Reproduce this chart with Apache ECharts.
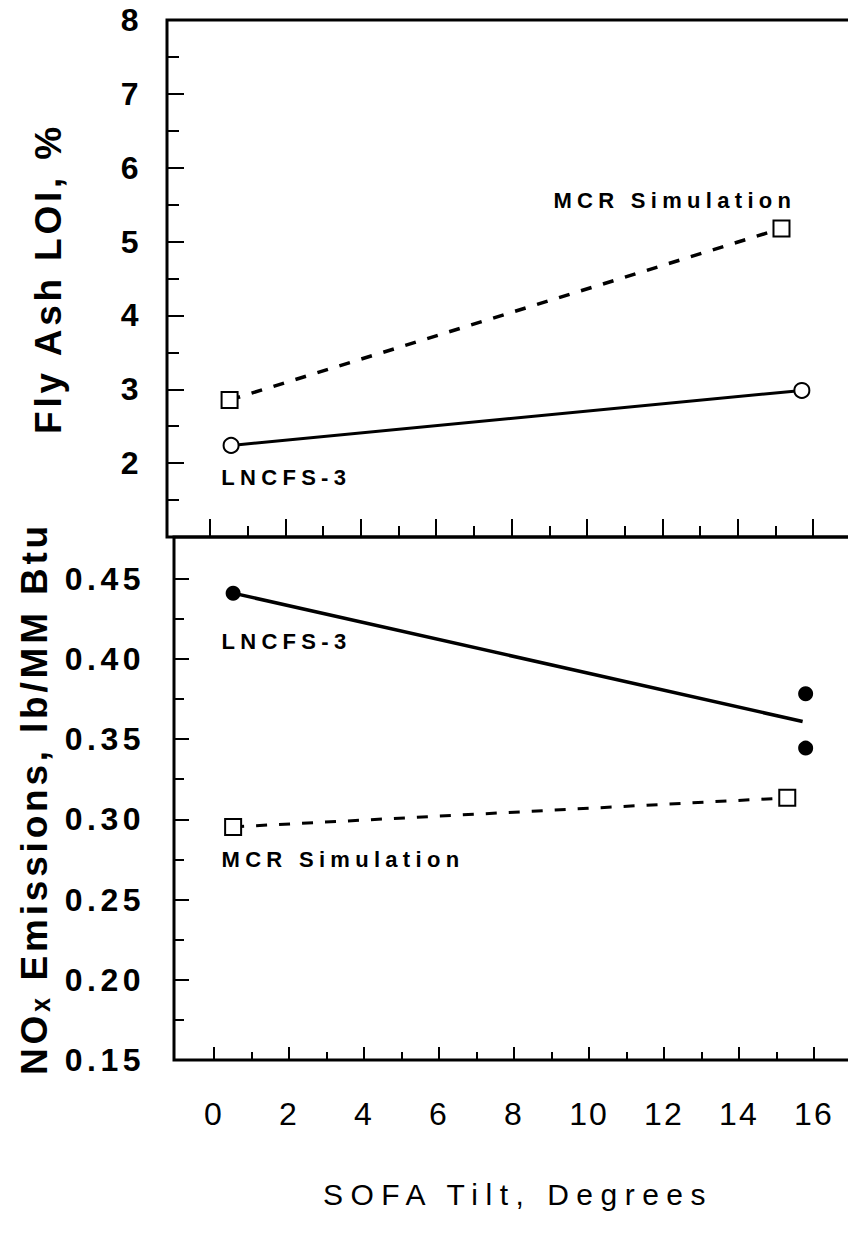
<!DOCTYPE html>
<html><head><meta charset="utf-8">
<script src="https://cdn.jsdelivr.net/npm/echarts@6/dist/echarts.min.js"></script>
<style>html,body{margin:0;padding:0;background:#fff;overflow:hidden}#chart{width:848px;height:1235px}</style>
</head><body><div id="chart"></div>
<script>
// ---- data ----
const xMajorTicks = [0, 2, 4, 6, 8, 10, 12, 14, 16];
const xMinorTicks = [1, 3, 5, 7, 9, 11, 13, 15, 17];
const loiTickLabels = [2, 3, 4, 5, 6, 7, 8];
const noxMajorTicks = [0.15, 0.20, 0.25, 0.30, 0.35, 0.40, 0.45];
const noxMinorTicks = [0.175, 0.225, 0.275, 0.325, 0.375, 0.425];

const loiMCR = [[0.52, 2.855], [15.16, 5.177]];
const loiLNCFS = [[0.56, 2.24], [15.7, 2.984]];
const noxLNCFS = [[0.51, 0.441], [15.7, 0.361]];
const noxLNCFSExtra = [[15.78, 0.3783], [15.78, 0.3444]];
const noxMCR = [[0.51, 0.2953], [15.29, 0.3134]];

const labelMCR = 'MCR Simulation';
const labelLNCFS = 'LNCFS-3';
const xName = 'SOFA Tilt, Degrees';
const yNameTop = 'Fly Ash LOI, %';
const yNameBottom = 'NO\u2093 Emissions, lb/MM Btu';

// ---- chart ----
const FONT = '"Liberation Sans", Arial, Helvetica, sans-serif';
const BLACK = '#000';
const chart = echarts.init(document.getElementById('chart'), null, { renderer: 'svg' });

function tickAxis(gridIndex, min, max, values, len, extra) {
  return Object.assign({
    type: 'value', gridIndex, min, max, position: 'bottom',
    axisLine: { show: false, onZero: false },
    axisTick: { show: true, inside: true, length: len, customValues: values, lineStyle: { color: BLACK, width: 2 } },
    axisLabel: { show: false },
    splitLine: { show: false }
  }, extra || {});
}

function annot(name, coord) {
  return { name, coord };
}
const annotLabel = {
  show: true, position: 'right', distance: 0, formatter: '{b}',
  color: BLACK, fontFamily: FONT, fontSize: 22, fontWeight: 'bold'
};

const option = {
  animation: false,
  backgroundColor: '#fff',
  grid: [
    { left: 167, top: 20, width: 711, height: 517, outerBoundsMode: 'none', containLabel: false,
      show: true, borderColor: BLACK, borderWidth: 3, backgroundColor: 'transparent' },
    { left: 174, top: 537, width: 704, height: 523, outerBoundsMode: 'none', containLabel: false,
      show: true, borderColor: BLACK, borderWidth: 3, backgroundColor: 'transparent' }
  ],
  xAxis: [
    tickAxis(0, -1.14, 17.72, xMajorTicks, 18),
    tickAxis(0, -1.14, 17.72, xMinorTicks, 11),
    tickAxis(1, -1.067, 17.71, xMajorTicks, 13, {
      axisLabel: {
        show: true, customValues: xMajorTicks, margin: 38, color: BLACK,
        fontFamily: FONT, fontSize: 32, fontWeight: 'normal'
      },
      name: xName, nameLocation: 'middle', nameGap: 119,
      nameTextStyle: { color: BLACK, fontFamily: FONT, fontSize: 30, fontWeight: 'normal', padding: [0, 16, 0, 0] }
    }),
    tickAxis(1, -1.067, 17.71, xMinorTicks, 8)
  ],
  yAxis: [
    {
      type: 'value', gridIndex: 0, min: 1, max: 8, interval: 1, position: 'left',
      axisLine: { show: false, onZero: false },
      axisTick: { show: true, inside: true, length: 17, lineStyle: { color: BLACK, width: 2 } },
      minorTick: { show: true, splitNumber: 2, length: 12, lineStyle: { color: BLACK, width: 2 } },
      axisLabel: {
        show: true, customValues: loiTickLabels, margin: 24, color: BLACK,
        fontFamily: FONT, fontSize: 32, fontWeight: 'bold'
      },
      splitLine: { show: false }, minorSplitLine: { show: false },
      name: yNameTop, nameLocation: 'middle', nameGap: 100,
      nameTextStyle: { color: BLACK, fontFamily: FONT, fontSize: 37, fontWeight: 'bold' }
    },
    {
      type: 'value', gridIndex: 1, min: 0.15, max: 0.476, position: 'left',
      axisLine: { show: false, onZero: false },
      axisTick: { show: true, inside: true, length: 15, customValues: noxMajorTicks, lineStyle: { color: BLACK, width: 2 } },
      axisLabel: {
        show: true, customValues: noxMajorTicks, margin: 29, color: BLACK,
        fontFamily: FONT, fontSize: 32, fontWeight: 'bold',
        formatter: v => Number(v).toFixed(2)
      },
      splitLine: { show: false },
      name: yNameBottom, nameLocation: 'middle', nameGap: 121,
      nameTextStyle: { color: BLACK, fontFamily: FONT, fontSize: 37, fontWeight: 'bold' }
    },
    {
      type: 'value', gridIndex: 1, min: 0.15, max: 0.476, position: 'left', offset: 0,
      axisLine: { show: false, onZero: false },
      axisTick: { show: true, inside: true, length: 10, customValues: noxMinorTicks, lineStyle: { color: BLACK, width: 2 } },
      axisLabel: { show: false },
      splitLine: { show: false }
    }
  ],
  series: [
    {
      type: 'line', xAxisIndex: 0, yAxisIndex: 0, data: loiMCR,
      symbol: 'rect', symbolSize: 16,
      itemStyle: { color: '#fff', borderColor: BLACK, borderWidth: 2 },
      lineStyle: { color: BLACK, width: 3.5, type: [11, 12] },
      markPoint: { symbol: 'circle', symbolSize: 0, silent: true, label: annotLabel,
        data: [annot(labelMCR, [9.11, 5.556])] }
    },
    {
      type: 'line', xAxisIndex: 0, yAxisIndex: 0, data: loiLNCFS,
      symbol: 'circle', symbolSize: 15,
      itemStyle: { color: '#fff', borderColor: BLACK, borderWidth: 2 },
      lineStyle: { color: BLACK, width: 3 },
      markPoint: { symbol: 'circle', symbolSize: 0, silent: true, label: annotLabel,
        data: [annot(labelLNCFS, [0.3, 1.81])] }
    },
    {
      type: 'line', xAxisIndex: 2, yAxisIndex: 1,
      data: noxLNCFS.map((p, i) => i === 0 ? p : { value: p, symbol: 'none' }),
      symbol: 'circle', symbolSize: 15,
      itemStyle: { color: BLACK, borderColor: BLACK, borderWidth: 0, opacity: 1 },
      lineStyle: { color: BLACK, width: 3.5 },
      markPoint: { symbol: 'circle', symbolSize: 0, silent: true, label: annotLabel,
        data: [annot(labelLNCFS, [0.2, 0.4107])] }
    },
    {
      type: 'scatter', xAxisIndex: 2, yAxisIndex: 1, data: noxLNCFSExtra,
      symbol: 'circle', symbolSize: 15, itemStyle: { color: BLACK, opacity: 1 }
    },
    {
      type: 'line', xAxisIndex: 2, yAxisIndex: 1, data: noxMCR,
      symbol: 'rect', symbolSize: 16,
      itemStyle: { color: '#fff', borderColor: BLACK, borderWidth: 2 },
      lineStyle: { color: BLACK, width: 3, type: [11, 12] },
      markPoint: { symbol: 'circle', symbolSize: 0, silent: true, label: annotLabel,
        data: [annot(labelMCR, [0.2, 0.2747])] }
    }
  ]
};
chart.setOption(option);

// letter spacing to mimic the wide tracking of the original typesetting
const spacingMap = { '32|700': 4.5, '32|400': 2, '22|700': 5.3, '30|400': 7.5, '37|700': 3.8 };
function applySpacing() {
  document.querySelectorAll('#chart svg text').forEach(t => {
    const cs = getComputedStyle(t);
    const key = Math.round(parseFloat(cs.fontSize)) + '|' + (parseInt(cs.fontWeight, 10) >= 600 ? 700 : 400);
    if (spacingMap[key] !== undefined) t.style.letterSpacing = spacingMap[key] + 'px';
  });
}
chart.on('finished', applySpacing);
applySpacing();
setTimeout(applySpacing, 50);
</script>
</body></html>
